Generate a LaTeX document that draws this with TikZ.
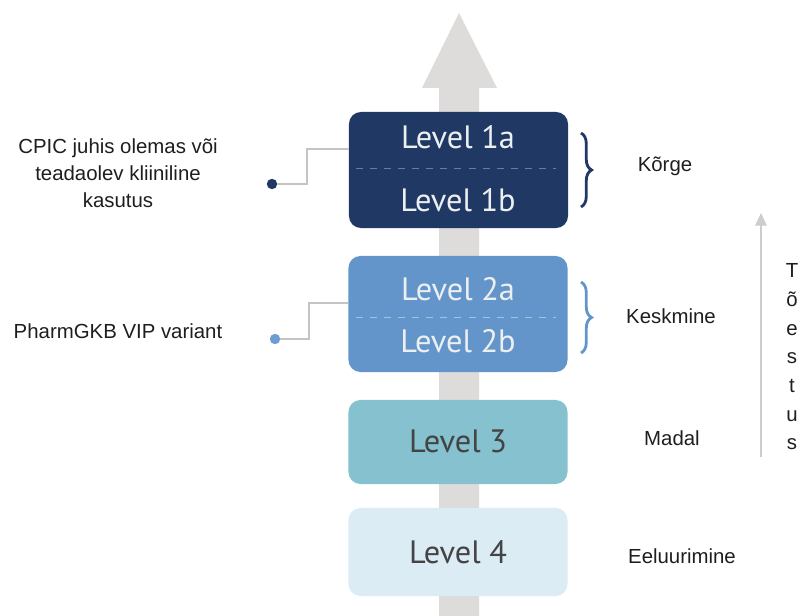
\documentclass[tikz,border=0pt]{standalone}
\usepackage{fontspec}
\setmainfont{Liberation Sans}
\newfontfamily\levelfont{PT Sans}
\usetikzlibrary{decorations.pathreplacing,arrows.meta}
\definecolor{lvlA}{RGB}{31,56,100}
\definecolor{lvlB}{RGB}{99,149,203}
\definecolor{lvlC}{RGB}{133,193,207}
\definecolor{lvlD}{RGB}{219,236,245}
\definecolor{shaft}{RGB}{222,219,219}
\definecolor{linegray}{RGB}{196,196,196}
\definecolor{arrowgray}{RGB}{205,205,205}
\definecolor{txt}{RGB}{30,30,30}
\definecolor{darktxt}{RGB}{68,68,68}
\definecolor{lighttxt}{RGB}{236,239,239}
\definecolor{dashA}{RGB}{100,125,165}
\definecolor{dashB}{RGB}{160,195,228}
\definecolor{dotB}{RGB}{108,158,212}

\begin{document}
\begin{tikzpicture}[x=0.025cm,y=-0.025cm,
    level/.style={rounded corners=8.5pt,minimum width=5.475cm,inner sep=0},
    lvltext/.style={font=\levelfont\fontsize{23}{23}\selectfont,inner sep=0},
    lab/.style={font=\fontsize{14.5}{19}\selectfont,text=txt,align=center},
    dot/.style={circle,inner sep=0,minimum size=0.26cm},
    link/.style={linegray,line width=1pt},
    brc/.style={decorate,decoration={brace,amplitude=7.5pt},line width=2pt}]
    \useasboundingbox (0,0) rectangle (802,616);
    % big arrow behind the levels
    \fill[shaft] (439,616)--(439,88)--(422,88)--(459,13)--(497,88)--(479,88)--(479,616)--cycle;
    % levels
    \node[level,fill=lvlA,minimum height=2.9cm] (box1) at (458.5,170) {};
    \node[level,fill=lvlB,minimum height=2.9cm] (box2) at (458,314) {};
    \node[level,fill=lvlC,minimum height=2.1cm] (box3) at (458,442) {};
    \node[level,fill=lvlD,minimum height=2.2cm] (box4) at (458,552) {};
    \draw[dash pattern=on 5pt off 5pt,dashA] (356,168)--(556,168);
    \draw[dash pattern=on 5pt off 5pt,dashB] (356,317)--(556,317);
    \node[lvltext,text=lighttxt] (l1a) at (458,137) {Level 1a};
    \node[lvltext,text=lighttxt] (l1b) at (458,200) {Level 1b};
    \node[lvltext,text=lighttxt] (l2a) at (458,289) {Level 2a};
    \node[lvltext,text=lighttxt] (l2b) at (458,341) {Level 2b};
    \node[lvltext,text=darktxt] (l3) at (458,441) {Level 3};
    \node[lvltext,text=darktxt] (l4) at (458,552) {Level 4};
    % braces
    \draw[brc,lvlA] (581,133)--(581,207);
    \draw[brc,lvlB] (581,282)--(581,353);
    % right labels
    \node[lab] (high) at (665,166) {Kõrge};
    \node[lab] (mid) at (671,316) {Keskmine};
    \node[lab] (low) at (672,438) {Madal};
    \node[lab] (pre) at (682,556) {Eeluurimine};
    % evidence arrow
    \coordinate (ev0) at (761,457);
    \coordinate (ev1) at (761,213);
    \draw[-{Triangle[length=9pt,width=8pt]},arrowgray,line width=1.6pt] (ev0)--(ev1);
    \node[lab,font=\fontsize{14.5}{20.4}\selectfont] (proof) at (792,357) {T\\õ\\e\\s\\t\\u\\s};
    % left labels and links
    \node[lab] (cpic) at (118,173) {CPIC juhis olemas või\\teadaolev kliiniline\\kasutus};
    \node[lab] (vip) at (118,331) {PharmGKB VIP variant};
    \node[dot,fill=lvlA] (dot1) at (272,184) {};
    \node[dot,fill=dotB] (dot2) at (275,339) {};
    \coordinate (b1) at (307,149);
    \coordinate (b2) at (309,303);
    \draw[link] (dot1) -| (b1) -- (box1.west |- b1);
    \draw[link] (dot2) -| (b2) -- (box2.west |- b2);
\end{tikzpicture}
\end{document}
